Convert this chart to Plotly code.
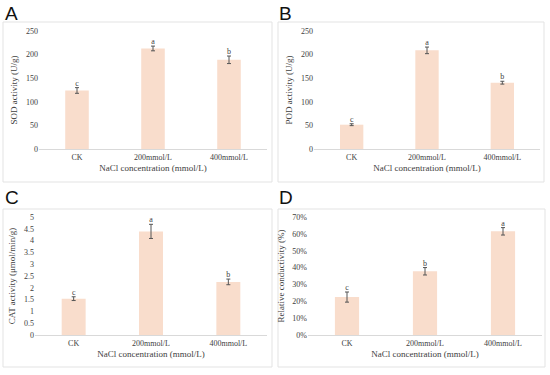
import plotly.graph_objects as go

categories = ["CK", "200mmol/L", "400mmol/L"]

sod_values = [124, 213, 189]
sod_errors = [6, 5, 8]
sod_letters = ["c", "a", "b"]

pod_values = [51.5, 209, 140.5]
pod_errors = [2, 7, 3]
pod_letters = ["c", "a", "b"]

cat_values = [1.54, 4.39, 2.25]
cat_errors = [0.08, 0.30, 0.12]
cat_letters = ["c", "a", "b"]

rc_values = [0.225, 0.378, 0.615]
rc_errors = [0.03, 0.022, 0.022]
rc_letters = ["c", "b", "a"]

W, H = 550, 375
BAR = "#F9DDCC"
ERR = "#555555"
TXT = "#404040"
SERIF = "Liberation Serif"

def px(x):
    return x / W

def py(y):
    return 1 - y / H

fig = go.Figure()

panels = [
    dict(n="", vals=sod_values, errs=sod_errors, letters=sod_letters,
         xd=[px(39), px(267)], yd=[py(149), py(31)], rng=[0, 250], dtick=50,
         fmt="", title="SOD activity (U/g)"),
    dict(n="2", vals=pod_values, errs=pod_errors, letters=pod_letters,
         xd=[px(314), px(540)], yd=[py(149), py(31)], rng=[0, 250], dtick=50,
         fmt="", title="POD activity (U/g)"),
    dict(n="3", vals=cat_values, errs=cat_errors, letters=cat_letters,
         xd=[px(35), px(267)], yd=[py(335), py(217)], rng=[0, 5], dtick=0.5,
         fmt="", title="CAT activity (μmol/min/g)"),
    dict(n="4", vals=rc_values, errs=rc_errors, letters=rc_letters,
         xd=[px(308), px(542)], yd=[py(335), py(217)], rng=[0, 0.7], dtick=0.1,
         fmt=".0%", title="Relative conductivity (%)"),
]

layout = {}
for p in panels:
    n = p["n"]
    fig.add_trace(go.Bar(
        x=categories, y=p["vals"], marker_color=BAR, marker_line_width=0,
        error_y=dict(type="data", array=p["errs"], color=ERR, thickness=1, width=2),
        xaxis="x" + n, yaxis="y" + n, showlegend=False, width=0.31,
    ))
    fig.add_trace(go.Scatter(
        x=categories, y=[v + e for v, e in zip(p["vals"], p["errs"])],
        mode="text", text=p["letters"], textposition="top center",
        textfont=dict(family=SERIF, size=8, color=TXT),
        xaxis="x" + n, yaxis="y" + n, showlegend=False, cliponaxis=False,
    ))
    layout["xaxis" + n] = dict(
        domain=p["xd"], anchor="y" + n, showline=True, linecolor="#d9d9d9",
        linewidth=1, ticks="", showgrid=False, zeroline=False, automargin=False,
        tickfont=dict(family=SERIF, size=8, color=TXT),
        title=dict(text="NaCl concentration (mmol/L)",
                   font=dict(family=SERIF, size=9, color=TXT), standoff=4),
    )
    layout["yaxis" + n] = dict(
        domain=p["yd"], anchor="x" + n, range=p["rng"], dtick=p["dtick"],
        tickformat=p["fmt"], showgrid=False, zeroline=False, showline=False,
        ticks="", automargin=False, tickfont=dict(family=SERIF, size=8, color=TXT),
        title=dict(text=p["title"], font=dict(family=SERIF, size=9, color=TXT),
                   standoff=6),
    )

fig.update_layout(**layout)

boxes = [(3, 22, 272, 182), (278, 22, 544, 182), (3, 209, 272, 367), (278, 209, 545, 367)]
for x0, y0, x1, y1 in boxes:
    fig.add_shape(type="rect", xref="paper", yref="paper",
                  x0=px(x0), x1=px(x1), y0=py(y1), y1=py(y0),
                  line=dict(color="#e3e3e3", width=1), fillcolor="rgba(0,0,0,0)", layer="below")

labels = [("A", 3, 14), ("B", 277, 14), ("C", 3, 197), ("D", 277, 197)]
for t, x, y in labels:
    fig.add_annotation(text=t, xref="paper", yref="paper", x=px(x), y=py(y),
                       xanchor="left", yanchor="middle", showarrow=False,
                       font=dict(family="Liberation Sans", size=19, color="#111111"))

fig.update_layout(width=W, height=H, margin=dict(l=0, r=0, t=0, b=0, autoexpand=False),
                  paper_bgcolor="white", plot_bgcolor="white", bargap=0.69)

fig.write_html("out.html", config={"displayModeBar": False},
               post_script="document.body.style.margin='0';document.body.style.overflow='hidden';")
